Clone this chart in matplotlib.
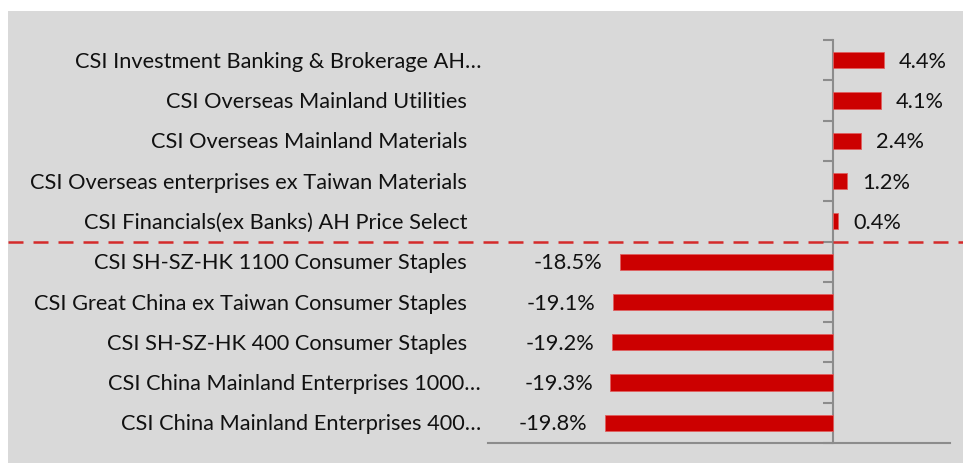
import matplotlib
matplotlib.use("Agg")
import matplotlib.pyplot as plt
import matplotlib.transforms as mtransforms
from matplotlib.patches import Rectangle
import numpy as np

categories = [
    "CSI Investment Banking & Brokerage AH…",
    "CSI Overseas Mainland Utilities",
    "CSI Overseas Mainland Materials",
    "CSI Overseas enterprises ex Taiwan Materials",
    "CSI Financials(ex Banks) AH Price Select",
    "CSI SH-SZ-HK 1100 Consumer Staples",
    "CSI Great China ex Taiwan Consumer Staples",
    "CSI SH-SZ-HK 400 Consumer Staples",
    "CSI China Mainland Enterprises 1000…",
    "CSI China Mainland Enterprises 400…",
]
values = [4.4, 4.1, 2.4, 1.2, 0.4, -18.5, -19.1, -19.2, -19.3, -19.8]
value_labels = ["4.4%", "4.1%", "2.4%", "1.2%", "0.4%",
                "-18.5%", "-19.1%", "-19.2%", "-19.3%", "-19.8%"]

plt.rcParams["font.family"] = ["Lato", "DejaVu Sans"]
bg = "#d9d9d9"
red = "#cc0000"
axis_gray = "#8c8c8c"
fs = 15.7

W, H = 963, 463
fig = plt.figure(figsize=(W / 100, H / 100), dpi=100, facecolor="white")
# grey chart area (white margin on top and left)
fig.patches.append(Rectangle((8 / W, 0), 1 - 8 / W, (H - 11) / H,
                             transform=fig.transFigure, facecolor=bg,
                             edgecolor="none", zorder=-10))

ax = fig.add_axes([488 / W, (H - 443) / H, (950 - 488) / W, (443 - 40) / H])
ax.set_facecolor("none")

y = np.arange(len(values))
ax.barh(y, values, height=0.4, color=red, edgecolor="#e06060", linewidth=0.6, zorder=3)
ax.set_xlim(-29.9, 10.1)
ax.set_ylim(len(values) - 0.5, -0.5)

# spines
for s in ["top", "right"]:
    ax.spines[s].set_visible(False)
ax.spines["left"].set_position(("data", 0))
ax.spines["left"].set_color(axis_gray)
ax.spines["left"].set_linewidth(1.5)
ax.spines["bottom"].set_color(axis_gray)
ax.spines["bottom"].set_linewidth(1.5)
ax.set_xticks([])
ax.set_yticks(np.arange(-0.5, len(values), 1))
ax.set_yticklabels([])
ax.tick_params(axis="y", length=7, width=1.5, color=axis_gray, direction="out")

# category labels at a fixed position left of the plot area
trans = mtransforms.blended_transform_factory(fig.transFigure, ax.transData)
for yi, name in zip(y, categories):
    xr = 481 if name.endswith("…") else 467
    fig.text(xr / W, yi + 0.04, name, transform=trans, ha="right", va="center",
             fontsize=fs, color="#111111")

# value labels
for yi, v, lab in zip(y, values, value_labels):
    if v >= 0:
        ax.text(v + 1.3, yi + 0.04, lab, ha="left", va="center", fontsize=fs, color="#111111")
    else:
        ax.text(v - 1.5, yi + 0.04, lab, ha="right", va="center", fontsize=fs, color="#111111")

# dashed separator between positive and negative groups
ax.plot([8 / W, 1.0], [4.5, 4.5], transform=trans, clip_on=False,
        color="#d42a2a", linewidth=1.8, linestyle=(0, (6, 4)), zorder=4)

fig.savefig("out.png", dpi=100, facecolor="white")
